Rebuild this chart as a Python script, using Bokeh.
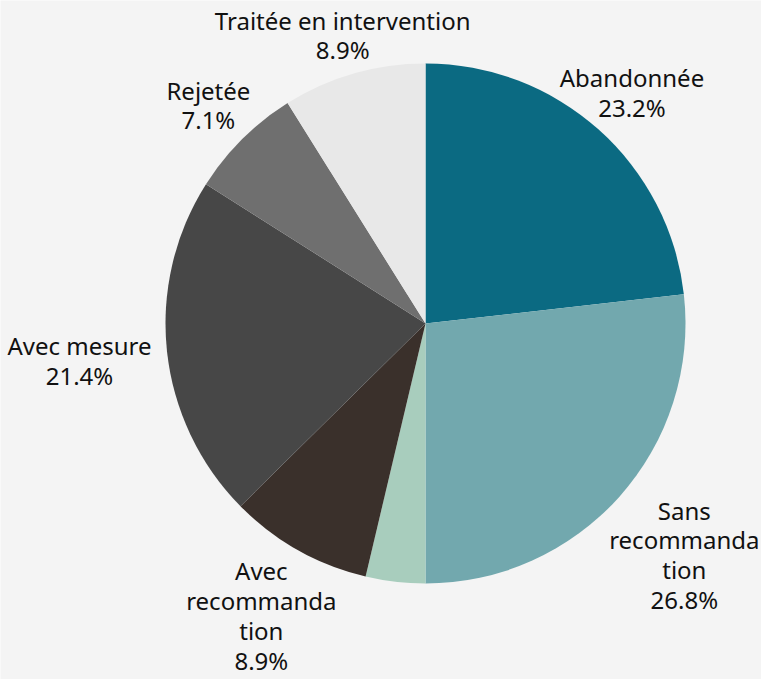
from math import pi, sin, cos
import numpy as np
from bokeh.plotting import figure
from bokeh.models import ColumnDataSource
from bokeh.core.properties import value
from bokeh.embed import file_html
from bokeh.resources import INLINE

# ---- data ----
categories = ["Abandonnée", "Sans recommandation", "Autre", "Avec recommandation",
              "Avec mesure", "Rejetée", "Traitée en intervention"]
percent = [23.2, 26.8, 3.7, 8.9, 21.4, 7.1, 8.9]
label_text = ["Abandonnée", "Sans\nrecommanda\ntion", "", "Avec\nrecommanda\ntion",
              "Avec mesure", "Rejetée", "Traitée en intervention"]
colors = ["#0b6a82", "#72a8ae", "#a8cdbd", "#3a302b", "#474747", "#6f6f6f", "#e8e8e8"]

# ---- layout ----
W, H = 761, 679
cx, cy, R = 425, 679 - 323, 260
label_r = [310, 347, 0, 335, 348, 308, 300]

frac = np.array(percent) / 100.0
cum = np.cumsum(frac)
prev = cum - frac
start = pi / 2 - 2 * pi * prev
end = pi / 2 - 2 * pi * cum
mid = pi / 2 - 2 * pi * (prev + frac / 2)

src = ColumnDataSource(dict(start=start, end=end, color=colors,
                            x=[cx] * len(percent), y=[cy] * len(percent)))

p = figure(width=W, height=H, x_range=(0, W), y_range=(0, H),
           output_backend="svg", toolbar_location=None, min_border=0)
p.axis.visible = False
p.grid.visible = False
p.outline_line_color = None
p.background_fill_color = "#f4f4f4"
p.border_fill_color = "#f4f4f4"

p.wedge(x="x", y="y", radius=R, start_angle="start", end_angle="end",
        direction="clock", color="color", line_color=None, source=src)

lx, ly, lt = [], [], []
for i, t in enumerate(label_text):
    if not t:
        continue
    lx.append(cx + label_r[i] * cos(mid[i]))
    ly.append(cy + label_r[i] * sin(mid[i]))
    lt.append(t + "\n" + f"{percent[i]:.1f}%")

p.text(x=lx, y=ly, text=lt, text_align="center", text_baseline="middle",
       text_font=value("Noto Sans"), text_font_size="24px", text_color="#111111",
       text_line_height=0.9)

html = file_html(p, INLINE)
html = html.replace("<body>", '<body style="background:#f4f4f4">', 1)
open("out.html", "w").write(html)
